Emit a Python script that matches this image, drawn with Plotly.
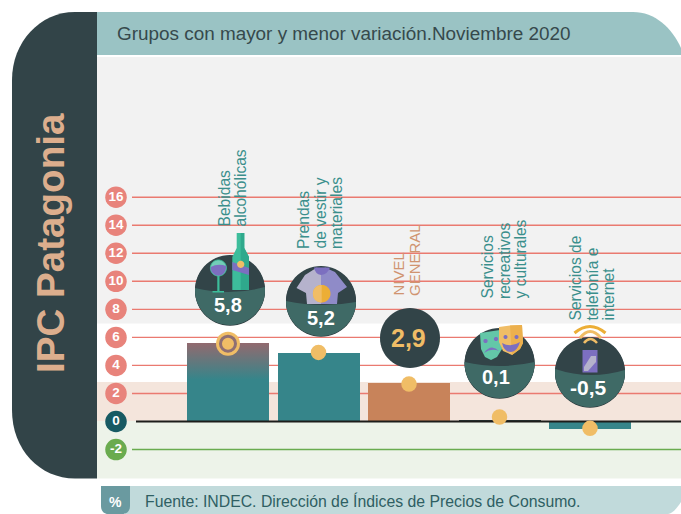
import numpy as np
import plotly.graph_objects as go

# ---------- data ----------
title = "Grupos con mayor y menor variación.Noviembre 2020"
side_title = "IPC Patagonia"
source = "Fuente: INDEC. Dirección de Índices de Precios de Consumo."
categories = ["Bebidas alcohólicas", "Prendas de vestir y materiales", "NIVEL GENERAL",
              "Servicios recreativos y culturales", "Servicios de telefonía e internet"]
value_labels = ["5,8", "5,2", "2,9", "0,1", "-0,5"]
bar_heights = [5.6, 4.89, 2.75, 0.12, -0.5]      # as drawn against the axis of the picture
tick_vals = [16, 14, 12, 10, 8, 6, 4, 2, 0, -2]
tick_text = ["16", "14", "12", "10", "8", "6", "4", "2", "0", "-2"]
dot_vals = [5.55, 4.93, 2.68, 0.32, -0.49]

# ---------- palette ----------
DARK, MID, HEAD = "#324448", "#3f6a66", "#9ac3c4"
TEAL, COPPER, GOLD = "#36858a", "#c8835a", "#f0bd66"
SALMON, GREEN = "#e8837b", "#6aab4f"
PURPLE, MINT = "#7c6fc0", "#3dbd9b"

W, H = 681, 514
STEP, X0 = 90.5, 228.0       # px per category, px of the first category
UNIT, Y0 = 14.02, 421.5      # px per axis unit, px of zero
xval = lambda px: (px - X0) / STEP
yval = lambda py: (Y0 - py) / UNIT
xr, yr = [xval(0), xval(W)], [yval(H), yval(0)]
pos = list(range(len(categories)))
BAR_W = 82 / STEP


def pth(*cmds):
    """Path given in canvas pixels, written in paper units."""
    out = []
    for c in cmds:
        if isinstance(c, str):
            out.append(c)
        else:
            out.append(f"{c[0] / W:.5f},{1 - c[1] / H:.5f}")
    return " ".join(out)


shapes = []


def add(path, fill=None, line=None, lw=0, layer="above"):
    shapes.append(dict(type="path", xref="paper", yref="paper", path=path, layer=layer,
                       fillcolor=fill or "rgba(0,0,0,0)",
                       line=dict(color=line or "rgba(0,0,0,0)", width=lw)))


def rect(x0, y0, x1, y1, fill, layer="above"):
    add(pth("M", (x0, y0), "L", (x1, y0), "L", (x1, y1), "L", (x0, y1), "Z"), fill, layer=layer)


def poly(pts, fill, layer="above", line=None, lw=0):
    cmds = ["M", pts[0]]
    for p in pts[1:]:
        cmds += ["L", p]
    add(pth(*cmds, "Z"), fill, line=line, lw=lw, layer=layer)


def circle(cx, cy, r, fill, line=None, lw=0):
    a = np.linspace(0, 2 * np.pi, 60, endpoint=False)
    poly([(cx + r * np.cos(t), cy + r * np.sin(t)) for t in a], fill, line=line, lw=lw)


def bubble(cx, cy, r, yl, ym, yr_):
    circle(cx, cy + 0.8, r, "#2b3a3d")
    circle(cx, cy, r, DARK)
    al = np.arctan2(yl - cy, -np.sqrt(r * r - (yl - cy) ** 2))
    ar = np.arctan2(yr_ - cy, np.sqrt(r * r - (yr_ - cy) ** 2))
    if al < 0:
        al += 2 * np.pi
    xs_l, xs_r = cx + r * np.cos(al), cx + r * np.cos(ar)
    cmds = ["M", (xs_l, yl), "Q", (cx, 2 * ym - (yl + yr_) / 2), (xs_r, yr_)]
    for t in np.linspace(ar, al, 40)[1:]:
        cmds += ["L", (cx + r * np.cos(t), cy + r * np.sin(t))]
    add(pth(*cmds, "Z"), MID)


def arc(p0, c, p1, col, lw):
    add(pth("M", p0, "Q", c, p1), None, line=col, lw=lw)


# ---------- page furniture ----------
rect(97, 57, W, 323.5, "#f2f2f2", "below")
rect(97, 382, W, 421, "#f4e5dc", "below")
rect(97, 421, W, 478.5, "#edf3e9", "below")
add(pth("M", (97, 12), "L", (75, 12), "C", (40, 12), (12, 42), (12, 80), "L", (12, 410),
        "C", (12, 450), (40, 478.5), (75, 478.5), "L", (97, 478.5), "Z"), DARK, layer="below")
add(pth("M", (97, 12), "L", (633, 12), "C", (655, 12), (672, 28), (681, 48), "L", (681, 55),
        "L", (97, 55), "Z"), HEAD, layer="below")
add(pth("M", (125, 486), "L", (681, 486), "L", (681, 502), "C", (677, 508), (672, 514), (668, 514),
        "L", (125, 514), "Z"), "#c1dadb", layer="below")
add(pth("M", (101, 486), "L", (130, 486), "L", (130, 506), "C", (130, 511), (127, 514), (122, 514),
        "L", (108, 514), "C", (104, 514), (101, 511), (101, 506), "Z"), "#6a9aa0", layer="below")

# grid lines through the y scale
for v in tick_vals:
    if v != 0:
        shapes.append(dict(type="line", xref="x", yref="y", x0=xval(132), x1=xr[1], y0=v, y1=v,
                           layer="below", line=dict(color=GREEN if v < 0 else "#ea7a70", width=1.4)))

# ---------- bubbles and pictograms ----------
bubble(230, 290, 35, 288, 292, 287)
# glass
poly([(217.3, 275), (219.5, 275), (219.5, 291), (224, 291), (224, 292.5), (212.5, 292.5),
      (212.5, 291), (217.3, 291)], MINT)
circle(218.4, 268, 8, "#73cdb8", line=MINT, lw=1)
add(pth("M", (210.6, 267), "Q", (218, 263), (226.3, 266), "Q", (226, 275), (218.4, 275.8),
        "Q", (211, 275), (210.6, 267), "Z"), PURPLE)
# bottle
poly([(236.7, 233), (244.3, 233), (244.3, 248), (249, 257), (249, 290), (232.3, 290), (232.3, 257),
      (236.7, 248)], MINT)
poly([(240.7, 233), (244.3, 233), (244.3, 248), (249, 257), (249, 290), (240.7, 290)], "#2fa98c")
poly([(232.3, 262), (249, 268), (249, 275), (232.3, 270)], PURPLE)
circle(240.7, 264.3, 3.6, GOLD)
bubble(321, 301, 35, 301, 305, 302)
# shirt
poly([(317, 267.5), (321, 272), (321, 304), (307, 304), (306, 293), (296.5, 288), (305, 275)], "#b5b2cc")
poly([(325, 267.5), (321, 272), (321, 304), (337, 304), (338, 293), (347, 287), (335, 272)], "#8f8bc8")
add(pth("M", (314, 267.5), "L", (330, 267.5), "Q", (328, 274), (321, 275), "Q", (315, 274), (314, 267.5), "Z"), PURPLE)
circle(321.7, 293.7, 8.8, "#ecae36")
add(pth("M", (321.7, 284.9), "C", (316, 284.9), (312.9, 289), (312.9, 293.7), "C", (312.9, 298.5),
        (316, 302.5), (321.7, 302.5), "Z"), GOLD)
circle(410, 338, 30, DARK)
bubble(499.6, 363, 35, 362, 366, 362)
# masks
poly([(480, 333), (500, 330), (502, 349), (497, 357), (491, 360), (485, 357), (481, 349)], "#63c7a8")
for c in [(485.5, 341), (496, 339)]:
    circle(*c, 2.1, PURPLE)
add(pth("M", (484, 353), "Q", (491, 343), (499, 351), "Q", (491, 348), (484, 353), "Z"), PURPLE)
poly([(499, 327), (510, 325.5), (522, 325), (523, 343), (520, 349), (512, 355), (503, 351), (499, 342)], GOLD)
poly([(510, 325.5), (522, 325), (523, 343), (520, 349), (512, 355)], "#ecb04d")
for c in [(505.5, 337), (516.5, 337)]:
    circle(*c, 2.0, PURPLE)
add(pth("M", (502, 343), "Q", (511, 348), (520, 342), "Q", (517, 352), (511, 352), "Q", (504, 352),
        (502, 343), "Z"), PURPLE)
bubble(590, 372, 35, 369, 375, 370)
# phone and signal
poly([(582.5, 350), (597.5, 350), (597.5, 372.5), (582.5, 372.5)], PURPLE)
poly([(591, 356), (596, 356), (596, 362), (588, 371), (584, 371), (584, 367)], "#b5b2cc")
arc((574.5, 333), (590, 320), (605.5, 333), "#ecae36", 3)
arc((580, 338), (590, 325), (601, 338), GOLD, 3)
arc((584, 343), (590, 335), (597, 343), GOLD, 2.5)

# ---------- traces ----------
fig = go.Figure()
fig.add_bar(x=pos, y=bar_heights, width=BAR_W, marker=dict(color=[TEAL, TEAL, COPPER, "#2b3a3d", TEAL], line_width=0),
            hoverinfo="skip")
# fading top of the first bar
fig.add_scatter(x=[-BAR_W / 2, BAR_W / 2, BAR_W / 2, -BAR_W / 2], y=[3, 3, bar_heights[0], bar_heights[0]],
                mode="none", fill="toself",
                fillgradient=dict(type="vertical", colorscale=[[0, TEAL], [1, "#926a6f"]]), hoverinfo="skip")
fig.add_scatter(x=[xval(136), xr[1]], y=[0, 0], mode="lines", line=dict(color="#1d1d1b", width=2), hoverinfo="skip")
fig.add_scatter(x=pos[:1], y=dot_vals[:1], mode="markers",
                marker=dict(size=24, color=GOLD, line_width=0), hoverinfo="skip")
fig.add_scatter(x=pos[:1], y=dot_vals[:1], mode="markers",
                marker=dict(size=15, color=GOLD, line=dict(color="#8f6f73", width=3)), hoverinfo="skip")
fig.add_scatter(x=pos[1:], y=dot_vals[1:], mode="markers",
                marker=dict(size=15.5, color=GOLD, line_width=0), hoverinfo="skip")
tick_cols = [GREEN if v < 0 else "#175a63" if v == 0 else SALMON for v in tick_vals]
fig.add_scatter(x=[xval(116)] * len(tick_vals), y=tick_vals, mode="markers+text", text=tick_text,
                textposition="middle center",
                textfont=dict(family="Liberation Sans", size=13.5, color="white", weight="bold"),
                marker=dict(size=21.5, color=tick_cols, line_width=0), hoverinfo="skip")

# ---------- texts ----------
ann = []


def txt(px, py, s, size, color, angle=0, xa="center", ya="middle", bold=False):
    ann.append(dict(x=px / W, y=1 - py / H, xref="paper", yref="paper", text=s, showarrow=False,
                    textangle=angle, xanchor=xa, yanchor=ya,
                    font=dict(family="Liberation Sans", size=size, color=color,
                              weight="bold" if bold else "normal")))


txt(115, 34, title, 18.9, "#36494c", xa="left")
txt(50.5, 243.5, side_title, 38.6, "#dcae8d", angle=-90, bold=True)
txt(143, 501, source, 15.8, "#2f5f63", xa="left")
txt(115.5, 502, "%", 14, "white", bold=True)

LAB = "#3a8f8c"
cat_lines = [
    (["Bebidas", "alcohólicas"], [224, 240], 229, LAB, 15.6),
    (["Prendas", "de vestir y", "materiales"], [303, 320, 336], 251, LAB, 15.6),
    (["NIVEL", "GENERAL"], [398, 414], 298, "#d09470", 15),
    (["Servicios", "recreativos", "y culturales"], [487, 504, 520], 301, LAB, 15.6),
    (["Servicios de", "telefonía e", "internet"], [575, 592, 608], 323, LAB, 15.6),
]
for lines, xs, bottom, col, size in cat_lines:
    for s, px in zip(lines, xs):
        txt(px, bottom, s, size, col, angle=-90, ya="bottom")

label_xy = [(228, 305, 20), (321, 318, 20), (408, 338, 25), (496, 377, 20), (588, 387, 21)]
for s, (px, py, size), c in zip(value_labels, label_xy, ["white", "white", GOLD, "white", "white"]):
    txt(px, py, s, size, c, bold=True)

fig.update_layout(
    width=W, height=H, autosize=False, margin=dict(l=0, r=0, t=0, b=0, pad=0),
    paper_bgcolor="white", plot_bgcolor="rgba(0,0,0,0)", showlegend=False,
    xaxis=dict(range=xr, visible=False, fixedrange=True),
    yaxis=dict(range=yr, visible=False, fixedrange=True),
    shapes=shapes, annotations=ann, bargap=0,
)
fig.write_html("out.html", config=dict(displayModeBar=False),
               post_script="document.body.style.margin='0';")
